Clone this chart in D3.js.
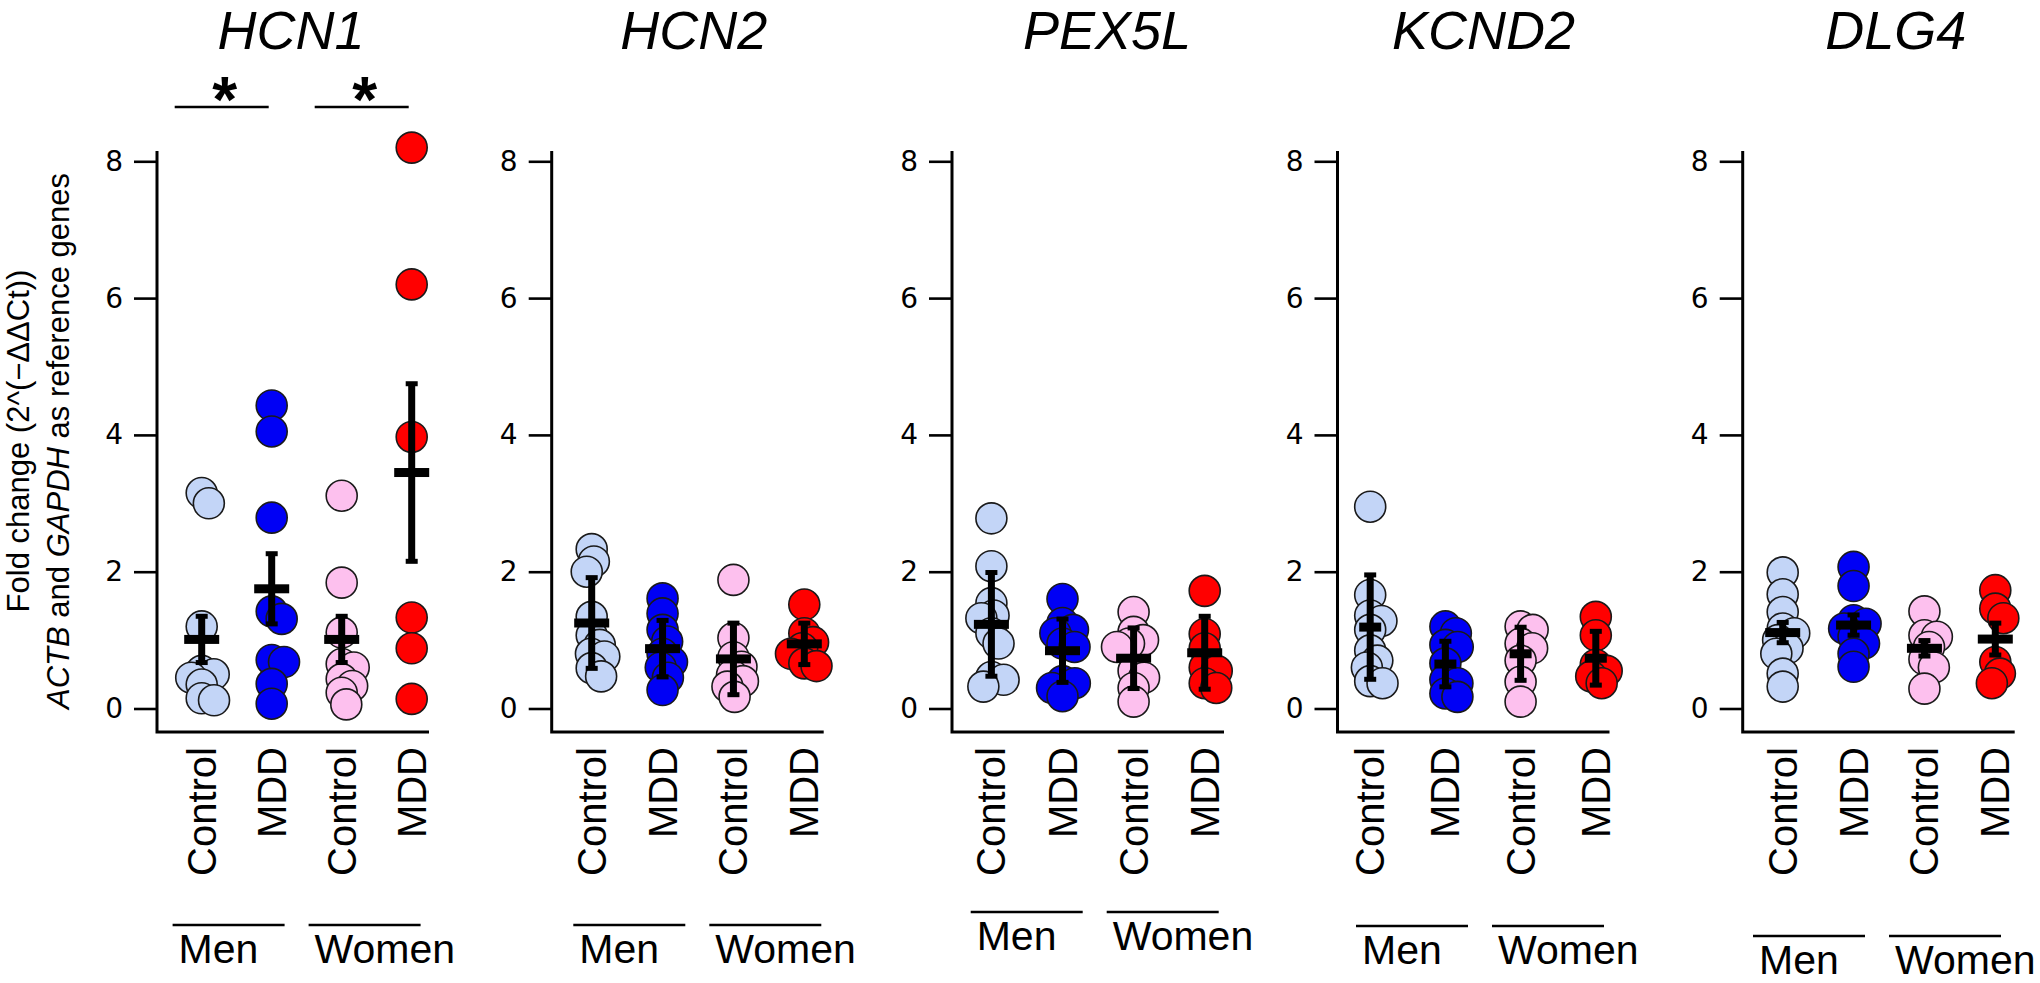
<!DOCTYPE html>
<html><head><meta charset="utf-8">
<script src="https://cdn.jsdelivr.net/npm/d3@7"></script>
<style>
html,body{margin:0;padding:0;background:#fff;}
svg{display:block;}
text{font-family:"Liberation Sans", Arial, Helvetica, sans-serif; fill:#000;}
</style></head><body>
<svg id="chart" width="2040" height="983"></svg>
<script>
// ---------- data ----------
const genes = ["HCN1", "HCN2", "PEX5L", "KCND2", "DLG4"];
const groupLabels = ["Control", "MDD", "Control", "MDD"];
const sexLabels = ["Men", "Women"];
const yTicks = [0, 2, 4, 6, 8];
const groupColors = ["#c3d5f7", "#0000f5", "#fdc0ee", "#ff0000"];

// values per group: [Men Control, Men MDD, Women Control, Women MDD]
const hcn1Values = [
  [3.15, 3.0, 1.2, 0.55, 0.5, 0.45, 0.35, 0.15, 0.12],
  [4.43, 4.05, 2.79, 1.42, 1.31, 0.71, 0.68, 0.36, 0.07],
  [3.11, 1.84, 1.11, 0.65, 0.6, 0.43, 0.33, 0.23, 0.06],
  [8.2, 6.2, 3.97, 1.33, 0.88, 0.14]
];
const hcn1Mean = [1.01, 1.75, 1.01, 3.45];
const hcn1Err = [0.36, 0.535, 0.36, 1.32];

const hcn2Values = [
  [2.33, 2.15, 2.0, 1.34, 1.07, 0.93, 0.8, 0.76, 0.59, 0.47],
  [1.61, 1.39, 1.15, 0.98, 0.8, 0.68, 0.6, 0.45, 0.27],
  [1.88, 1.03, 0.75, 0.61, 0.49, 0.4, 0.32, 0.17],
  [1.52, 1.1, 0.97, 0.88, 0.8, 0.66, 0.62]
];
const hcn2Mean = [1.25, 0.875, 0.725, 0.945];
const hcn2Err = [0.685, 0.435, 0.545, 0.325];

const pex5lValues = [
  [2.78, 2.08, 1.54, 1.36, 1.32, 1.1, 0.95, 0.46, 0.42, 0.32],
  [1.6, 1.25, 1.15, 1.1, 0.95, 0.9, 0.4, 0.37, 0.3, 0.18],
  [1.41, 1.12, 1.0, 0.95, 0.9, 0.55, 0.45, 0.3, 0.1],
  [1.72, 1.09, 0.88, 0.6, 0.55, 0.37, 0.3]
];
const pex5lMean = [1.23, 0.845, 0.735, 0.815];
const pex5lErr = [0.78, 0.485, 0.465, 0.555];

const kcnd2Values = [
  [2.95, 1.66, 1.36, 1.28, 1.15, 0.85, 0.7, 0.6, 0.4, 0.37],
  [1.2, 1.1, 0.93, 0.9, 0.66, 0.42, 0.37, 0.22, 0.17],
  [1.2, 1.15, 0.95, 0.88, 0.7, 0.39, 0.1],
  [1.34, 1.07, 0.64, 0.55, 0.47, 0.37]
];
const kcnd2Mean = [1.19, 0.65, 0.8, 0.735];
const kcnd2Err = [0.785, 0.355, 0.41, 0.415];

const dlg4Values = [
  [1.99, 1.67, 1.41, 1.17, 1.1, 1.0, 0.88, 0.8, 0.51, 0.32],
  [2.07, 1.79, 1.29, 1.24, 1.17, 1.05, 0.95, 0.8, 0.61],
  [1.42, 1.07, 1.05, 0.9, 0.72, 0.6, 0.29],
  [1.73, 1.46, 1.32, 0.68, 0.51, 0.37]
];
const dlg4Mean = [1.11, 1.22, 0.88, 1.015];
const dlg4Err = [0.17, 0.17, 0.135, 0.255];

const significance = [[0, 1], [2, 3]]; // HCN1 only

// ---------- layout (not data) ----------
const panelValues = [hcn1Values, hcn2Values, pex5lValues, kcnd2Values, dlg4Values];
const panelMeans = [hcn1Mean, hcn2Mean, pex5lMean, kcnd2Mean, dlg4Mean];
const panelErrs = [hcn1Err, hcn2Err, pex5lErr, kcnd2Err, dlg4Err];
const panelLeft = [157, 551.7, 952, 1337.5, 1742.7];
const catRange = [[44.7, 254.7], [40, 252.6], [39.4, 252.7], [32.7, 258.3], [40, 252.6]];
const titleOffset = [134, 142, 155, 146, 153];
const crossWidth = [35, 35, 35, 22, 35];
const sexLineY = [925, 925, 912, 926, 936];
const sexLineStart = [15.6, 21.6, 18.7, 18.5, 10.3];
const plotWidth = 272, axisTop = 151, axisBottom = 732;

const svg = d3.select("#chart");
const y = d3.scaleLinear().domain([0, 8]).range([708.5, 161.3]);

function swarm(vals, minD) {
  const pts = vals.map((v, i) => ({v, i, py: y(v)})).sort((a, b) => a.py - b.py);
  const placed = [];
  for (const p of pts) {
    const cands = [0];
    for (const q of placed) {
      const dy = Math.abs(p.py - q.py);
      if (dy < minD) {
        const dx = Math.sqrt(minD * minD - dy * dy);
        cands.push(q.dx + dx, q.dx - dx);
      }
    }
    cands.sort((a, b) => Math.abs(a) - Math.abs(b));
    for (const c of cands) {
      if (placed.every(q => (c - q.dx) ** 2 + (p.py - q.py) ** 2 >= minD * minD - 0.01)) { p.dx = c; break; }
    }
    placed.push(p);
  }
  return placed;
}

genes.forEach((gene, pi) => {
  const left = panelLeft[pi];
  const g = svg.append("g");
  const x = d3.scalePoint().domain(d3.range(4)).range([left + catRange[pi][0], left + catRange[pi][1]]);

  // title
  g.append("text").attr("x", left + titleOffset[pi]).attr("y", 49)
    .attr("text-anchor", "middle").style("font-size", "54px").style("font-style", "italic")
    .text(gene);

  // y axis ticks
  const ax = g.append("g").attr("transform", `translate(${left},0)`)
    .call(d3.axisLeft(y).tickValues(yTicks).tickSize(23).tickPadding(11).tickFormat(d3.format("d")));
  ax.select(".domain").remove();
  ax.selectAll(".tick line").attr("stroke", "#000").attr("stroke-width", 2.6);
  ax.selectAll(".tick text").style("font-size", "28px")
    .style("font-family", '"DejaVu Sans", Verdana, sans-serif');

  // L-shaped axis frame
  g.append("path").attr("d", `M${left},${axisTop}V${axisBottom}H${left + plotWidth}`)
    .attr("fill", "none").attr("stroke", "#000").attr("stroke-width", 3);

  // points
  panelValues[pi].forEach((vals, gi) => {
    const pts = swarm(vals, 12.5);
    g.append("g").selectAll("circle").data(pts).join("circle")
      .attr("cx", d => x(gi) + d.dx).attr("cy", d => d.py).attr("r", 15.5)
      .attr("fill", groupColors[gi]).attr("stroke", "#1a1a1a").attr("stroke-width", 1.6);
  });

  // mean + error crosses
  panelMeans[pi].forEach((m, gi) => {
    const e = panelErrs[pi][gi];
    const cx = x(gi);
    const cg = g.append("g").attr("fill", "#000");
    const yt = y(m + e), yb = y(m - e);
    cg.append("rect").attr("x", cx - 3.5).attr("y", yt).attr("width", 7).attr("height", yb - yt);
    cg.append("rect").attr("x", cx - 6).attr("y", yt - 1).attr("width", 12).attr("height", 5);
    cg.append("rect").attr("x", cx - 6).attr("y", yb - 4).attr("width", 12).attr("height", 5);
    cg.append("rect").attr("x", cx - crossWidth[pi] / 2).attr("y", y(m) - 4.5)
      .attr("width", crossWidth[pi]).attr("height", 9);
  });

  // category labels
  groupLabels.forEach((lab, gi) => {
    g.append("text").attr("transform", `translate(${x(gi)},747) rotate(-90)`)
      .attr("text-anchor", "end").attr("dy", "0.35em").style("font-size", "40px").text(lab);
  });

  // sex group lines + labels
  sexLabels.forEach((lab, si) => {
    const x0 = left + sexLineStart[pi] + si * 136;
    g.append("line").attr("x1", x0).attr("x2", x0 + 112)
      .attr("y1", sexLineY[pi]).attr("y2", sexLineY[pi]).attr("stroke", "#000").attr("stroke-width", 2.6);
    g.append("text").attr("x", x0 + 6).attr("y", sexLineY[pi] + 38).style("font-size", "41px").text(lab);
  });

  // significance (HCN1)
  if (pi === 0) {
    significance.forEach(([a, b]) => {
      const x1 = x(a) - 27, x2 = x(b) - 3;
      g.append("line").attr("x1", x1).attr("x2", x2).attr("y1", 107).attr("y2", 107)
        .attr("stroke", "#000").attr("stroke-width", 2.6);
      g.append("text").attr("x", (x1 + x2) / 2 + 3).attr("y", 122).attr("text-anchor", "middle")
        .style("font-size", "64px").style("font-weight", "bold").text("*");
    });
    // y-axis title
    const t = g.append("g").attr("transform", "translate(0,441) rotate(-90)");
    t.append("text").attr("x", 0).attr("y", 29).attr("text-anchor", "middle")
      .style("font-size", "31px").text("Fold change (2^(\u2212\u0394\u0394Ct))");
    const t2 = t.append("text").attr("x", 0).attr("y", 69).attr("text-anchor", "middle").style("font-size", "31px");
    t2.append("tspan").style("font-style", "italic").text("ACTB");
    t2.append("tspan").text(" and ");
    t2.append("tspan").style("font-style", "italic").text("GAPDH");
    t2.append("tspan").text(" as reference genes");
  }
});
</script>
</body></html>
